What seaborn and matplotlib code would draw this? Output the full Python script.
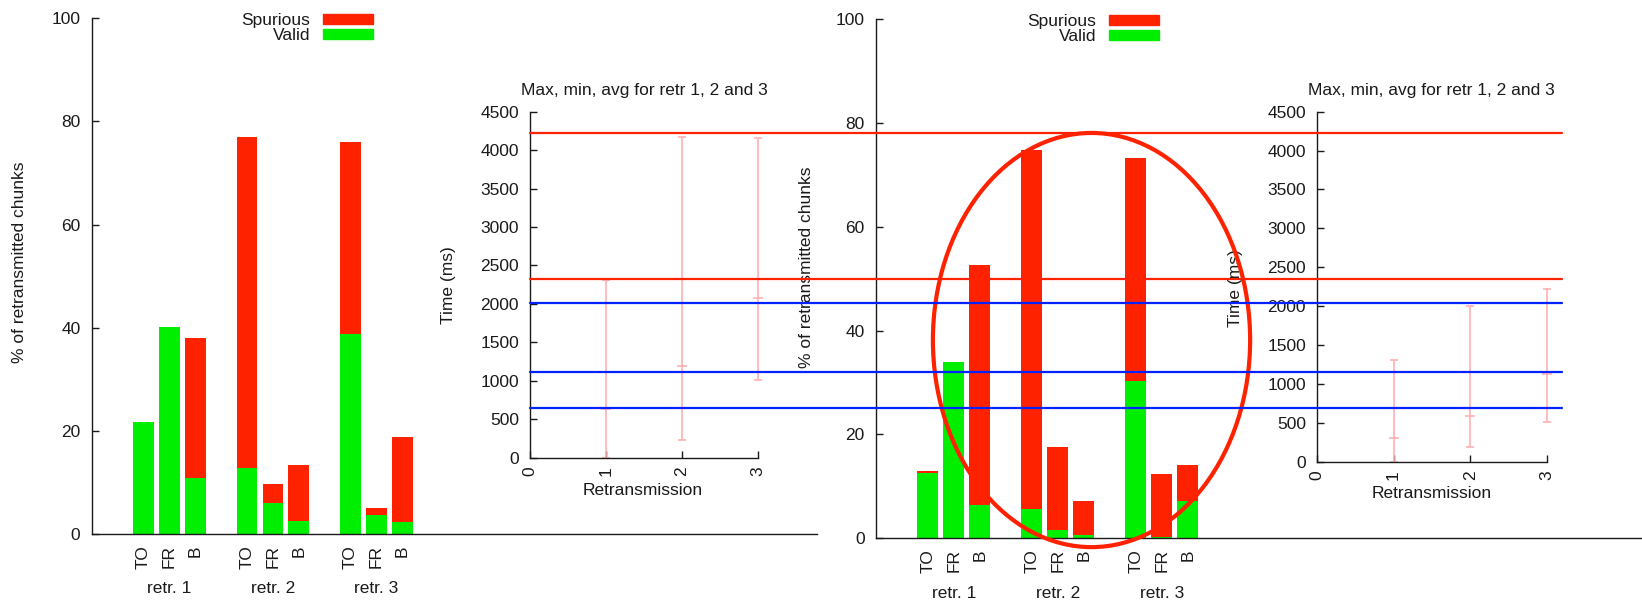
import numpy as np
import pandas as pd
import matplotlib
matplotlib.use("Agg")
import matplotlib.pyplot as plt
import seaborn as sns
from matplotlib.patches import Patch, Ellipse

# ---------------- data ----------------
bar_labels = ["TO", "FR", "B"] * 3
group_labels = ["retr. 1", "retr. 2", "retr. 3"]
bar_pos = [0, 1, 2, 4, 5, 6, 8, 9, 10]
group_pos = [1, 5, 9]

orig_valid = [21.7, 40.1, 10.9, 12.8, 6.1, 2.6, 38.7, 3.7, 2.4]
orig_spurious = [0.0, 0.0, 27.1, 64.1, 3.5, 10.7, 37.4, 1.3, 16.4]
mod_valid = [12.5, 34.0, 6.4, 5.7, 1.6, 0.6, 30.3, 0.2, 7.1]
mod_spurious = [0.5, 0.0, 46.2, 69.2, 16.0, 6.6, 42.9, 12.2, 7.0]

retr = [1, 2, 3]
orig_max = [2309, 4175, 4161]
orig_avg = [638, 1189, 2079]
orig_min = [0, 226, 1007]
mod_max = [1307, 2001, 2224]
mod_avg = [309, 591, 1127]
mod_min = [0, 193, 514]

red_ref = [4226, 2322]
blue_ref = [2016, 1118, 650]

# ellipse annotation (right panel data coords)
ell_center = (6.30, 38.2)
ell_size = (12.2, 79.8)

# ---------------- style ----------------
sns.set_theme(style="white")
FS = 12.5
plt.rcParams['font.family'] = ['Liberation Sans', 'DejaVu Sans']
plt.rcParams.update({'font.size': FS, 'xtick.labelsize': FS,
                     'ytick.labelsize': FS, 'axes.labelsize': FS,
                     'axes.titlesize': FS, 'legend.fontsize': FS})
TXT = '#1a1a1a'
RED = '#ff2200'
GREEN = '#00ee00'
BLUE = '#0022ff'
PINK = '#ffb0b0'

fig = plt.figure(figsize=(16.42, 6.0), dpi=100)


def style_axes(ax):
    ax.set_facecolor('none')
    for s in ['top', 'right']:
        ax.spines[s].set_visible(False)
    for s in ['left', 'bottom']:
        ax.spines[s].set_color(TXT)
        ax.spines[s].set_linewidth(1.0)


def main_panel(rect, valid, spurious, xmax, legend_x, ylab_pos, z):
    ax = fig.add_axes(rect)
    ax.set_zorder(z)
    total = np.array(valid) + np.array(spurious)
    df = pd.DataFrame({'pos': bar_pos, 'total': total, 'valid': valid})
    sns.barplot(data=df, x='pos', y='total', native_scale=True, color=RED,
                width=0.8, saturation=1, errorbar=None, ax=ax, linewidth=0)
    sns.barplot(data=df, x='pos', y='valid', native_scale=True, color=GREEN,
                width=0.8, saturation=1, errorbar=None, ax=ax, linewidth=0)
    style_axes(ax)
    ax.set_xlim(-2, xmax)
    ax.set_ylim(0, 100)
    ax.set_yticks(range(0, 101, 20))
    ax.set_xticks(bar_pos)
    ax.set_xticklabels(bar_labels, rotation=90, color=TXT)
    ax.tick_params(axis='x', length=0, pad=8)
    ax.tick_params(axis='y', direction='in', length=5, width=1, pad=8,
                   colors=TXT, left=True)
    ax.set_xlabel('')
    ax.set_ylabel('% of retransmitted chunks', color=TXT)
    ax.yaxis.set_label_coords(*ylab_pos)
    for gx, gl in zip(group_pos, group_labels):
        ax.annotate(gl, xy=(gx, 0), xycoords=('data', 'axes fraction'),
                    xytext=(0, -39.5), textcoords='offset points',
                    ha='center', va='center', color=TXT)
    handles = [Patch(color=RED), Patch(color=GREEN)]
    ax.legend(handles, ['Spurious', 'Valid'], loc='upper right',
              bbox_to_anchor=(legend_x, 1.01), frameon=False,
              markerfirst=False, handlelength=2.9, handleheight=0.5,
              labelspacing=0.0, handletextpad=0.7, borderpad=0,
              borderaxespad=0, labelcolor=TXT)
    return ax


def inset(rect, mx, av, mn, ylab_pos, xlab_pos, z):
    ax = fig.add_axes(rect)
    ax.set_zorder(z)
    mx, av, mn = np.array(mx), np.array(av), np.array(mn)
    ax.errorbar(retr, av, yerr=[av - mn, mx - av], fmt='none', ecolor=PINK,
                elinewidth=1.2, capsize=3, capthick=1.2, clip_on=False)
    ax.plot(retr, av, ls='none', marker='_', ms=7, mew=1.2, color=PINK,
            clip_on=False)
    style_axes(ax)
    ax.set_xlim(0, 3)
    ax.set_ylim(0, 4500)
    ax.set_xticks([0, 1, 2, 3])
    ax.set_yticks(range(0, 4501, 500))
    ax.tick_params(axis='x', direction='in', length=5, width=1, pad=6,
                   labelrotation=90, colors=TXT, bottom=True)
    ax.tick_params(axis='y', direction='in', length=5, width=1, pad=8,
                   colors=TXT, left=True)
    ax.set_title('Max, min, avg for retr 1, 2 and 3', color=TXT, pad=12)
    ax.set_ylabel('Time (ms)', color=TXT)
    ax.yaxis.set_label_coords(*ylab_pos)
    ax.set_xlabel('Retransmission', color=TXT)
    ax.xaxis.set_label_coords(*xlab_pos)
    return ax


ax_l = main_panel([91.5 / 1642, 1 - 534 / 600, (817 - 91.5) / 1642, (534 - 18.3) / 600],
                  orig_valid, orig_spurious, 26.0, 0.388, (-0.089, 0.527), 0)
ax_i1 = inset([530 / 1642, 1 - 457.7 / 600, 228 / 1642, 346 / 600],
              orig_max, orig_avg, orig_min, (-0.325, 0.5), (0.496, -0.072), 3)
ax_r = main_panel([875.7 / 1642, 1 - 538.3 / 600, (1642 - 875.7) / 1642, (538.3 - 19.3) / 600],
                  mod_valid, mod_spurious, 27.47, 0.3697, (-0.0805, 0.523), 2)
ax_i2 = inset([1317 / 1642, 1 - 461.7 / 600, 229.7 / 1642, 350 / 600],
              mod_max, mod_avg, mod_min, (-0.322, 0.496), (0.5, -0.068), 1)

# comparison lines drawn across, in the first inset's data scale
line_extent = 4.526
for y in red_ref:
    ax_i1.axhline(y, xmin=0, xmax=line_extent, color=RED, lw=1.6,
                  clip_on=False, zorder=10)
for y in blue_ref:
    ax_i1.axhline(y, xmin=0, xmax=line_extent, color=BLUE, lw=1.6,
                  clip_on=False, zorder=10)

ax_r.add_patch(Ellipse(ell_center, ell_size[0], ell_size[1], fill=False,
                       edgecolor=RED, lw=3.0, clip_on=False, zorder=10))

fig.savefig('out.png', dpi=100)
